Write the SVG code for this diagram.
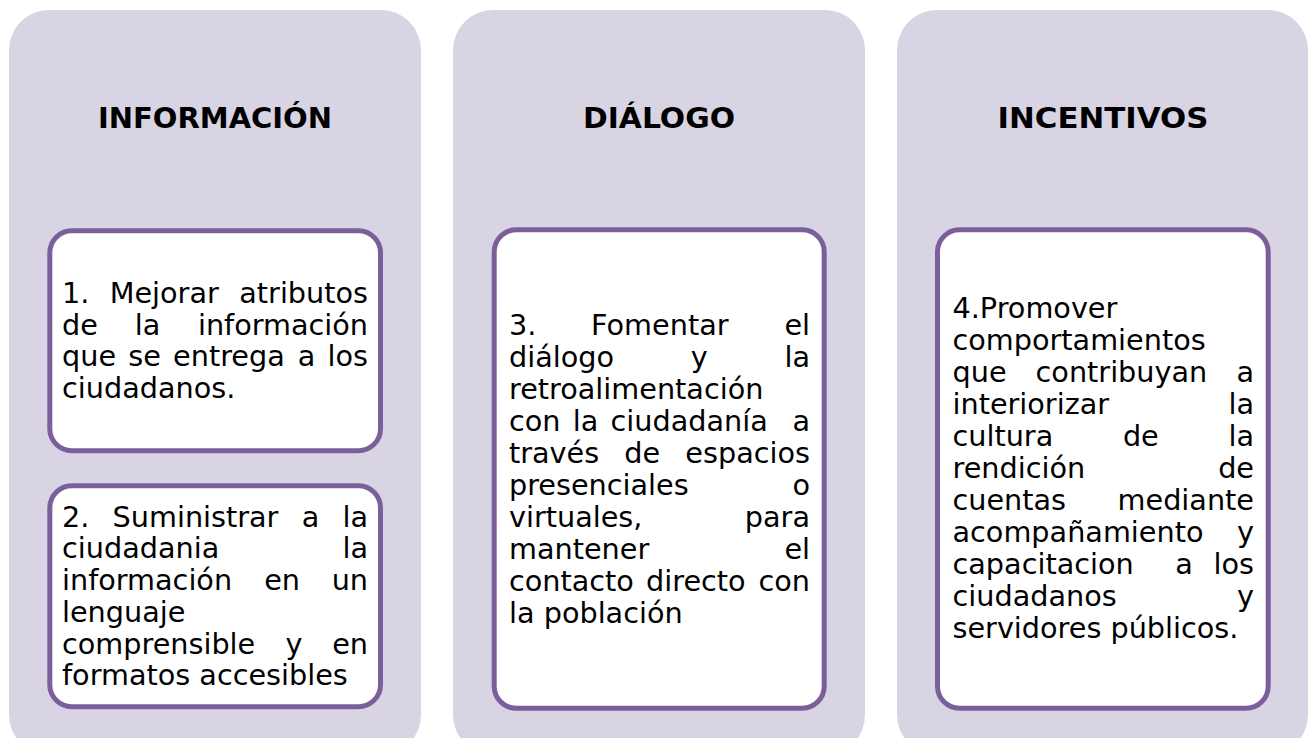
<svg xmlns="http://www.w3.org/2000/svg" width="1311" height="738" viewBox="0 0 1311 738">
<style>
.panel{fill:#d8d4e3;}
.box{fill:#ffffff;stroke:#7b5f9b;stroke-width:5;}
.h{font-family:"DejaVu Sans","Verdana",sans-serif;font-weight:bold;font-size:28px;fill:#000;text-anchor:middle;}
.t{font-family:"DejaVu Sans","Verdana",sans-serif;font-size:28.7px;fill:#000;}
.e{text-anchor:end;}
</style>
<rect width="1311" height="738" fill="#ffffff"/>
<g id="panel-informacion">
<rect class="panel" x="9" y="10" width="412" height="745" rx="40"/>
<text class="h" x="215" y="128" textLength="234" lengthAdjust="spacingAndGlyphs">INFORMACIÓN</text>
</g>
<g id="panel-dialogo">
<rect class="panel" x="453" y="10" width="412" height="745" rx="40"/>
<text class="h" x="659" y="128" textLength="152" lengthAdjust="spacingAndGlyphs">DIÁLOGO</text>
</g>
<g id="panel-incentivos">
<rect class="panel" x="897" y="10" width="411" height="745" rx="40"/>
<text class="h" x="1103" y="128" textLength="211" lengthAdjust="spacingAndGlyphs">INCENTIVOS</text>
</g>
<g id="box1">
<rect class="box" x="49.8" y="230.8" width="330.7" height="220" rx="22"/>
<text class="t" y="303"><tspan x="62">1.</tspan><tspan x="109.7">Mejorar</tspan><tspan class="e" x="368" text-anchor="end">atributos</tspan></text>
<text class="t" y="334.7"><tspan x="62">de</tspan><tspan x="134.8">la</tspan><tspan class="e" x="368" text-anchor="end">información</tspan></text>
<text class="t" y="366.4"><tspan x="62">que</tspan><tspan x="128.3">se</tspan><tspan x="173.1">entrega</tspan><tspan x="297.7">a</tspan><tspan class="e" x="368" text-anchor="end">los</tspan></text>
<text class="t" x="62" y="398.1">ciudadanos.</text>
</g>
<g id="box2">
<rect class="box" x="49.8" y="485.8" width="330.7" height="221" rx="22"/>
<text class="t" y="526.7"><tspan x="62">2.</tspan><tspan x="112.6">Suministrar</tspan><tspan x="301.7">a</tspan><tspan class="e" x="368" text-anchor="end">la</tspan></text>
<text class="t" y="558.4"><tspan x="62">ciudadania</tspan><tspan class="e" x="368" text-anchor="end">la</tspan></text>
<text class="t" y="590.1"><tspan x="62">información</tspan><tspan x="264.2">en</tspan><tspan class="e" x="368" text-anchor="end">un</tspan></text>
<text class="t" x="62" y="621.8">lenguaje</text>
<text class="t" y="653.5"><tspan x="62">comprensible</tspan><tspan x="285.6">y</tspan><tspan class="e" x="368" text-anchor="end">en</tspan></text>
<text class="t" x="62" y="685.2">formatos accesibles</text>
</g>
<g id="box3">
<rect class="box" x="494.2" y="229.8" width="330" height="478.5" rx="22"/>
<text class="t" y="335"><tspan x="509">3.</tspan><tspan x="591.1">Fomentar</tspan><tspan class="e" x="810" text-anchor="end">el</tspan></text>
<text class="t" y="367"><tspan x="509">diálogo</tspan><tspan x="690.8">y</tspan><tspan class="e" x="810" text-anchor="end">la</tspan></text>
<text class="t" x="509" y="399">retroalimentación</text>
<text class="t" y="431"><tspan x="509">con</tspan><tspan x="572.8">la</tspan><tspan x="610.6">ciudadanía</tspan><tspan class="e" x="810" text-anchor="end">a</tspan></text>
<text class="t" y="463"><tspan x="509">través</tspan><tspan x="624.3">de</tspan><tspan class="e" x="810" text-anchor="end">espacios</tspan></text>
<text class="t" y="495"><tspan x="509">presenciales</tspan><tspan class="e" x="810" text-anchor="end">o</tspan></text>
<text class="t" y="527"><tspan x="509">virtuales,</tspan><tspan class="e" x="810" text-anchor="end">para</tspan></text>
<text class="t" y="559"><tspan x="509">mantener</tspan><tspan class="e" x="810" text-anchor="end">el</tspan></text>
<text class="t" y="591"><tspan x="509">contacto</tspan><tspan x="646.1">directo</tspan><tspan class="e" x="810" text-anchor="end">con</tspan></text>
<text class="t" x="509" y="623">la población</text>
</g>
<g id="box4">
<rect class="box" x="937.5" y="229.8" width="330.7" height="478.5" rx="22"/>
<text class="t" x="952.5" y="318.3">4.Promover</text>
<text class="t" x="952.5" y="350.3">comportamientos</text>
<text class="t" y="382.3"><tspan x="952.5">que</tspan><tspan x="1035.6">contribuyan</tspan><tspan class="e" x="1254" text-anchor="end">a</tspan></text>
<text class="t" y="414.3"><tspan x="952.5">interiorizar</tspan><tspan class="e" x="1254" text-anchor="end">la</tspan></text>
<text class="t" y="446.3"><tspan x="952.5">cultura</tspan><tspan x="1122.9">de</tspan><tspan class="e" x="1254" text-anchor="end">la</tspan></text>
<text class="t" y="478.3"><tspan x="952.5">rendición</tspan><tspan class="e" x="1254" text-anchor="end">de</tspan></text>
<text class="t" y="510.3"><tspan x="952.5">cuentas</tspan><tspan class="e" x="1254" text-anchor="end">mediante</tspan></text>
<text class="t" y="542.3"><tspan x="952.5">acompañamiento</tspan><tspan class="e" x="1254" text-anchor="end">y</tspan></text>
<text class="t" y="574.3"><tspan x="952.5">capacitacion</tspan><tspan x="1175.2">a</tspan><tspan class="e" x="1254" text-anchor="end">los</tspan></text>
<text class="t" y="606.3"><tspan x="952.5">ciudadanos</tspan><tspan class="e" x="1254" text-anchor="end">y</tspan></text>
<text class="t" x="952.5" y="638.3">servidores públicos.</text>
</g>
<g id="connectors"/>
</svg>
